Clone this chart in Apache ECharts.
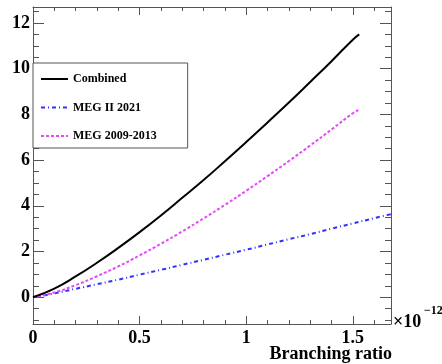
<!DOCTYPE html>
<html>
<head>
<meta charset="utf-8">
<script src="https://cdn.jsdelivr.net/npm/echarts@6/dist/echarts.min.js"></script>
<style>
  html, body { margin: 0; padding: 0; background: #fff; }
  #chart { width: 442px; height: 364px; }
</style>
</head>
<body>
<div id="chart"></div>
<script>
// Branching ratio (in units of 1e-12) for the three curves
const xCombined = [0, 0.1, 0.2, 0.3, 0.4, 0.5, 0.6, 0.7, 0.8, 0.9, 1.0, 1.1, 1.2, 1.3, 1.4, 1.5, 1.53];
const combined  = [0, 0.38, 0.91, 1.51, 2.16, 2.85, 3.58, 4.35, 5.13, 5.95, 6.79, 7.65, 8.52, 9.42, 10.33, 11.27, 11.5];

const xMeg0913 = [0, 0.1, 0.2, 0.3, 0.4, 0.5, 0.6, 0.7, 0.8, 0.9, 1.0, 1.1, 1.2, 1.3, 1.4, 1.5, 1.53];
const meg0913  = [0, 0.21, 0.53, 0.92, 1.35, 1.83, 2.34, 2.88, 3.45, 4.04, 4.66, 5.30, 5.96, 6.64, 7.34, 8.05, 8.2];

const xMeg2021 = [0, 0.1, 0.2, 0.3, 0.4, 0.5, 0.6, 0.7, 0.8, 0.9, 1.0, 1.1, 1.2, 1.3, 1.4, 1.5, 1.6, 1.68];
const meg2021  = [0, 0.17, 0.37, 0.57, 0.77, 0.99, 1.20, 1.42, 1.64, 1.86, 2.08, 2.31, 2.54, 2.76, 3.00, 3.23, 3.46, 3.64];

const seriesNames = ['Combined', 'MEG II 2021', 'MEG 2009-2013'];
const xLabel = 'Branching ratio';

const xMin = 0, xMax = 1.679;
const yMin = -1.17, yMax = 12.7;

const pairs = (xs, ys) => xs.map((x, i) => [x, ys[i]]);

const serif = '"Liberation Serif", "DejaVu Serif", serif';
const frameColor = '#555';

function xAxisDef(pos, showLabels) {
  return {
    type: 'value', position: pos, min: xMin, max: xMax, interval: 0.5,
    axisLine: { show: true, onZero: false, lineStyle: { color: frameColor, width: 1 } },
    axisTick: { show: true, inside: true, length: 8, lineStyle: { color: frameColor } },
    minorTick: { show: true, splitNumber: 5, length: 4, lineStyle: { color: frameColor } },
    axisLabel: {
      show: showLabels, showMaxLabel: false, margin: 5,
      fontFamily: serif, fontWeight: 'bold', fontSize: 18, color: '#000'
    },
    splitLine: { show: false }
  };
}
function yAxisDef(pos, showLabels) {
  return {
    type: 'value', position: pos, min: yMin, max: yMax, minInterval: 2, maxInterval: 2,
    axisLine: { show: true, onZero: false, lineStyle: { color: frameColor, width: 1 } },
    axisTick: { show: true, inside: true, length: 11, lineStyle: { color: frameColor } },
    minorTick: { show: true, splitNumber: 4, length: 6, lineStyle: { color: frameColor } },
    axisLabel: {
      show: showLabels, showMinLabel: false, showMaxLabel: false, margin: 3,
      fontFamily: serif, fontWeight: 'bold', fontSize: 18, color: '#000'
    },
    splitLine: { show: false }
  };
}

const chart = echarts.init(document.getElementById('chart'), null, { renderer: 'canvas' });
chart.setOption({
  animation: false,
  backgroundColor: '#fff',
  grid: { left: 33, right: 51, top: 7, bottom: 40 },
  xAxis: [xAxisDef('bottom', true), xAxisDef('top', false)],
  yAxis: [yAxisDef('left', true), yAxisDef('right', false)],
  legend: {
    orient: 'vertical', left: 33, top: 63,
    padding: [10, 31, 6, 7],
    itemGap: 16.5, itemWidth: 27, itemHeight: 14,
    borderColor: frameColor, borderWidth: 1, backgroundColor: '#fff',
    itemStyle: { opacity: 0 },
    textStyle: { fontFamily: serif, fontWeight: 'bold', fontSize: 12, color: '#000' },
    data: seriesNames
  },
  title: {
    text: xLabel, right: 50, top: 345,
    textStyle: { fontFamily: serif, fontWeight: 'bold', fontSize: 18, color: '#000' },
    padding: 0
  },
  graphic: [
    { type: 'text', left: 393, top: 313, style: { text: '×10', font: 'bold 18px ' + serif, fill: '#000' } },
    { type: 'text', left: 424, top: 305, style: { text: '−12', font: 'bold 12px ' + serif, fill: '#000' } }
  ],
  series: [
    {
      name: seriesNames[0], type: 'line', data: pairs(xCombined, combined),
      smooth: true, symbol: 'none', clip: true,
      lineStyle: { color: '#000', width: 2, type: 'solid' }, itemStyle: { color: '#000' }, z: 3
    },
    {
      name: seriesNames[1], type: 'line', data: pairs(xMeg2021, meg2021),
      smooth: true, symbol: 'none', clip: true,
      lineStyle: { color: '#3030ff', width: 2, type: [4, 3, 1, 3] }, itemStyle: { color: '#3030ff' }, z: 2
    },
    {
      name: seriesNames[2], type: 'line', data: pairs(xMeg0913, meg0913),
      smooth: true, symbol: 'none', clip: true,
      lineStyle: { color: '#e34cf5', width: 2, type: [3, 2] }, itemStyle: { color: '#e34cf5' }, z: 2
    }
  ]
});
</script>
</body>
</html>
